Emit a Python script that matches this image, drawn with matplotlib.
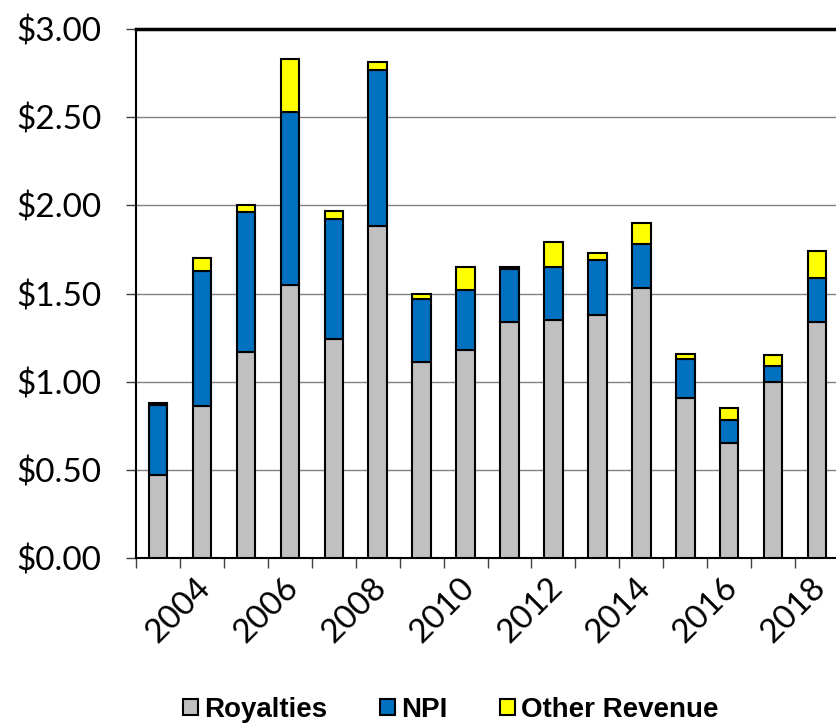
import numpy as np
import matplotlib.pyplot as plt
import matplotlib.transforms as mtrans
from matplotlib.ticker import FuncFormatter

# values ($ per share, stacked)
years = list(range(2003, 2019))
royalties = [0.47, 0.86, 1.17, 1.55, 1.24, 1.88, 1.11, 1.18, 1.34, 1.35, 1.38, 1.53, 0.91, 0.65, 1.00, 1.34]
npi = [0.40, 0.77, 0.79, 0.98, 0.68, 0.89, 0.36, 0.34, 0.30, 0.30, 0.31, 0.25, 0.22, 0.13, 0.09, 0.25]
other = [0.01, 0.07, 0.04, 0.30, 0.05, 0.04, 0.03, 0.13, 0.01, 0.14, 0.04, 0.12, 0.025, 0.07, 0.06, 0.15]
series_names = ['Royalties', 'NPI', 'Other Revenue']
colors = ['#C0C0C0', '#0070C0', '#FFFF00']

fig = plt.figure(figsize=(8.36, 7.23), dpi=100)
ax = fig.add_axes([0.1627, 0.2282, 0.841, 0.7317])

x = np.arange(len(years))
bottom = np.zeros(len(years))
for vals, name, c in zip([royalties, npi, other], series_names, colors):
    ax.bar(x, vals, width=0.42, bottom=bottom, color=c, edgecolor='black',
           linewidth=1.5, label=name, zorder=3)
    bottom = bottom + np.array(vals)

ax.set_ylim(0, 3.0)
ax.set_xlim(-0.5, len(years) - 0.5)
ax.set_yticks(np.arange(0, 3.01, 0.5))
ax.yaxis.set_major_formatter(FuncFormatter(lambda v, p: '${:.2f}'.format(v)))
ax.grid(axis='y', color='#808080', linewidth=1, zorder=0)

ax.set_xticks(x)
ax.set_xticklabels([str(y) if y % 2 == 0 else '' for y in years])
ax.set_xticks(np.arange(-0.5, len(years), 1), minor=True)
ax.tick_params(axis='x', which='major', length=0, pad=18)
ax.tick_params(axis='x', which='minor', length=7, color='#404040', width=1)
ax.tick_params(axis='y', length=7, color='#404040', width=1, pad=18)

# excel puts the rotated labels a little right of the category centre
shift = mtrans.ScaledTranslation(4 / 100, 0, fig.dpi_scale_trans)
for lab in ax.get_xticklabels():
    lab.set_rotation(45)
    lab.set_ha('right')
    lab.set_va('center')
    lab.set_rotation_mode('anchor')
    lab.set_fontfamily('Lato')
    lab.set_fontsize(24)
    lab.set_transform(lab.get_transform() + shift)
for lab in ax.get_yticklabels():
    lab.set_fontfamily('Lato')
    lab.set_fontsize(24)

for s in ['left', 'bottom']:
    ax.spines[s].set_linewidth(1.5)
ax.spines['top'].set_linewidth(2.5)
ax.spines['right'].set_visible(False)

fig.legend(loc='center', bbox_to_anchor=(0.5395, 0.018), ncol=3, frameon=False,
           handlelength=0.54, handleheight=0.54, handletextpad=0.22, columnspacing=1.9,
           prop={'family': 'Liberation Sans', 'weight': 'bold', 'size': 20})

fig.savefig('out.png', dpi=100)
